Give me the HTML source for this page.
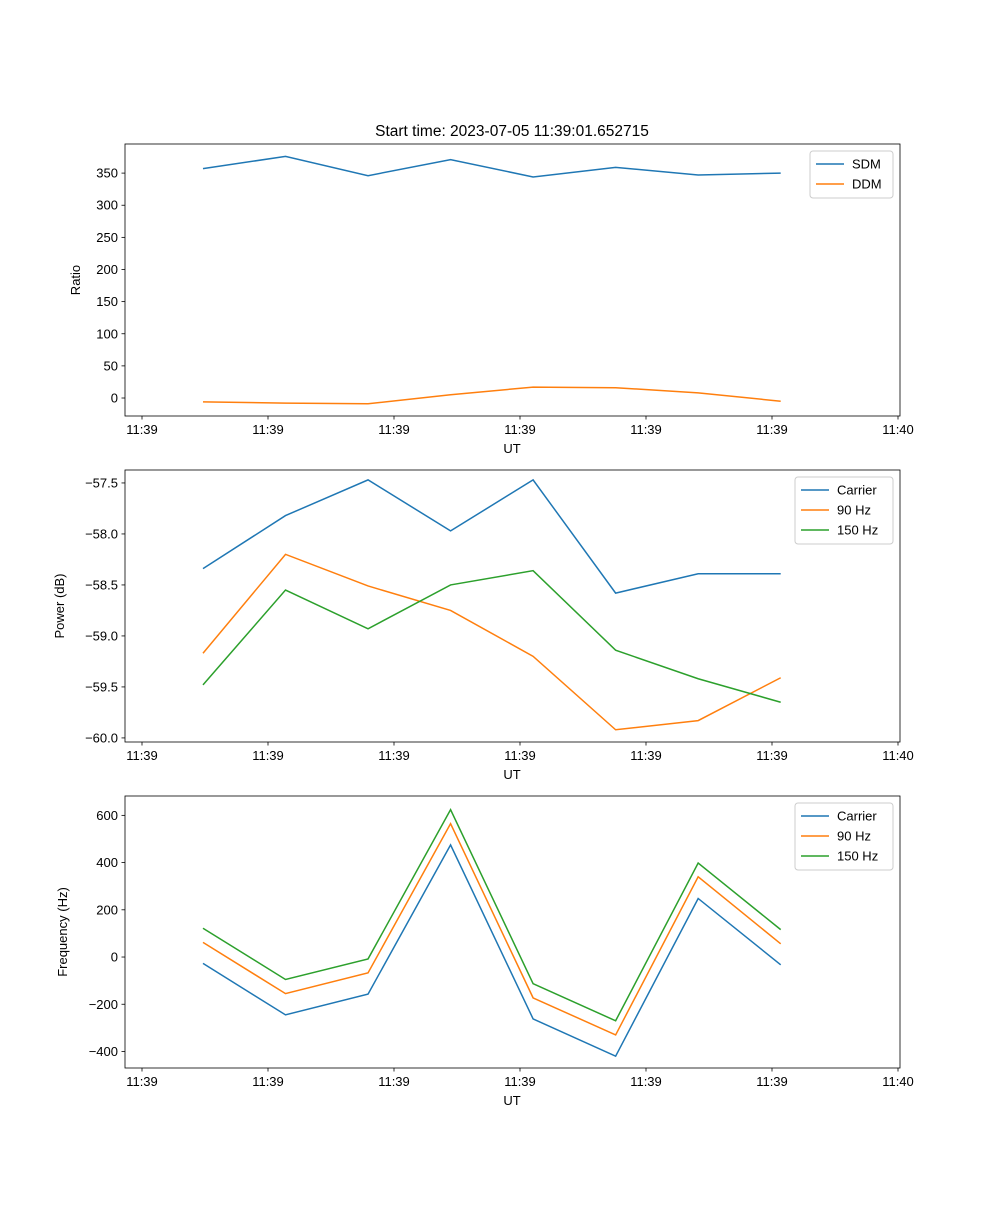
<!DOCTYPE html>
<html><head><meta charset="utf-8"><style>
body{margin:0;background:#fff}
svg{font-family:"Liberation Sans","DejaVu Sans",sans-serif}
</style></head><body>
<svg id="fig" width="1000" height="1200"></svg>
<script>
const times=[4.84,11.39,17.94,24.49,31.04,37.59,44.14,50.69];
const xTickVals=[0,10,20,30,40,50,60];
const xTickLabels=["11:39","11:39","11:39","11:39","11:39","11:39","11:40"];
const sdm=[357,376,346,371,344,359,347,350];
const ddm=[-6,-8,-9,5,17,16,8,-5];
const pCarrier=[-58.34,-57.82,-57.47,-57.97,-57.47,-58.58,-58.39,-58.39];
const p90=[-59.17,-58.20,-58.51,-58.75,-59.20,-59.92,-59.83,-59.41];
const p150=[-59.48,-58.55,-58.93,-58.50,-58.36,-59.14,-59.42,-59.65];
const fCarrier=[-27,-245,-157,475,-262,-420,248,-33];
const f90=[62,-155,-67,565,-173,-330,340,56];
const f150=[122,-95,-8,624,-113,-270,398,116];
const ratioTicks=[0,50,100,150,200,250,300,350];
const powerTicks=[-60.0,-59.5,-59.0,-58.5,-58.0,-57.5];
const freqTicks=[-400,-200,0,200,400,600];

const NS="http://www.w3.org/2000/svg";
const svg=document.getElementById('fig');
function el(t,a,p){const e=document.createElementNS(NS,t);for(const k in a)e.setAttribute(k,a[k]);(p||svg).appendChild(e);return e;}
const L=125,R=900;
const xs=t=>142+(t/10)*126;
function panel(name,top,bot,ymin,ymax,yticks,fmt,ylabel,series,legend){
  const g=el('g',{});
  
  
  const ys=v=>bot-(v-ymin)/(ymax-ymin)*(bot-top);
  series.forEach(s=>{
    const p=el('polyline',{points:s.v.map((v,i)=>xs(times[i])+','+ys(v)).join(' '),fill:'none',stroke:s.c,'stroke-width':1.5},g);
    
    
  });
  el('rect',{x:L,y:top,width:R-L,height:bot-top,fill:'none',stroke:'#000','stroke-width':0.8},g);
  xTickVals.forEach((t,i)=>{const x=xs(t);el('line',{x1:x,x2:x,y1:bot,y2:bot+3.5,stroke:'#000','stroke-width':0.8},g);
    const tx=el('text',{x:x,y:bot+18,'font-size':13,'text-anchor':'middle'},g);tx.textContent=xTickLabels[i];
    });
  yticks.forEach(v=>{const y=ys(v);el('line',{x1:L-3.5,x2:L,y1:y,y2:y,stroke:'#000','stroke-width':0.8},g);
    const tx=el('text',{x:L-7,y:y+4.5,'font-size':13,'text-anchor':'end'},g);tx.textContent=fmt(v);
    });
  const xl=el('text',{x:512,y:bot+37,'font-size':13,'text-anchor':'middle'},g);xl.textContent='UT';
  
  const yc=(top+bot)/2;
  const yl=el('text',{x:legend.lx,y:yc,'font-size':13,'text-anchor':'middle',transform:`rotate(-90 ${legend.lx} ${yc})`},g);yl.textContent=ylabel;
  
  const lg=el('g',{},g);
  el('rect',{x:legend.x,y:top+7,width:legend.w,height:series.length*20+7,fill:'#fff',stroke:'#ccc',rx:3},lg);
  series.forEach((s,i)=>{const y=top+7+13+i*20;
    el('line',{x1:legend.x+6,x2:legend.x+34,y1:y,y2:y,stroke:s.c,'stroke-width':1.5},lg);
    const t=el('text',{x:legend.x+42,y:y+4.5,'font-size':13},lg);t.textContent=s.n;
    });
}
const B='#1f77b4',O='#ff7f0e',G='#2ca02c';
const title=el('text',{x:512,y:136,'font-size':15.5,'text-anchor':'middle'});title.textContent='Start time: 2023-07-05 11:39:01.652715';

panel('ratio',144,416,-28.0,395.3,ratioTicks,v=>String(v),'Ratio',[{n:'SDM',v:sdm,c:B},{n:'DDM',v:ddm,c:O}],{x:810,w:83,lx:80});
panel('power',470,742,-60.04,-57.373,powerTicks,v=>'\u2212'+Math.abs(v).toFixed(1),'Power (dB)',[{n:'Carrier',v:pCarrier,c:B},{n:'90 Hz',v:p90,c:O},{n:'150 Hz',v:p150,c:G}],{x:795,w:98,lx:64});
panel('frequency',796,1068,-470,682,freqTicks,v=>(v<0?'\u2212':'')+Math.abs(v),'Frequency (Hz)',[{n:'Carrier',v:fCarrier,c:B},{n:'90 Hz',v:f90,c:O},{n:'150 Hz',v:f150,c:G}],{x:795,w:98,lx:67});
</script>
</body></html>
